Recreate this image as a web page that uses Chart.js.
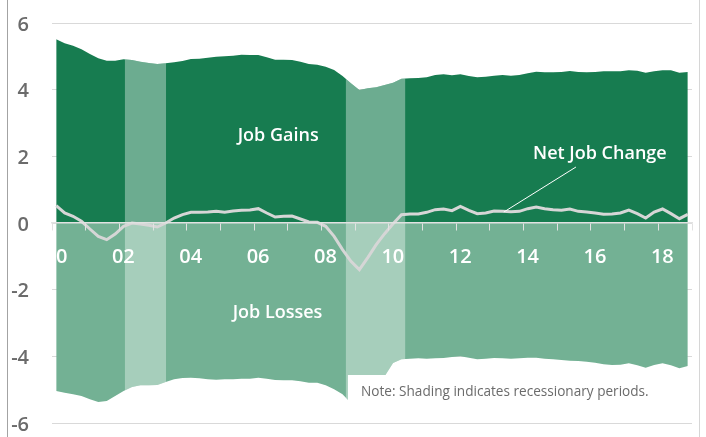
<!DOCTYPE html>
<html>
<head>
<meta charset="utf-8">
<script src="https://cdn.jsdelivr.net/npm/chart.js@4/dist/chart.umd.min.js"></script>
<style>
  html, body { margin: 0; padding: 0; background: #fff; }
  #wrap { width: 706px; height: 437px; }
</style>
</head>
<body>
<div id="wrap"><canvas id="jobsChart" width="706" height="437"></canvas></div>
<script>
// quarterly data, 2000Q1 - 2018Q4, percent of employment
const firstYear = 2000;
const lastYear = 2018;
const yearLabels = ["00", "02", "04", "06", "08", "10", "12", "14", "16", "18"];

const jobGains = [
  5.51, 5.39, 5.32, 5.21,  5.07, 4.94, 4.87, 4.87,  4.91, 4.89, 4.84, 4.80,
  4.77, 4.79, 4.82, 4.86,  4.92, 4.93, 4.96, 4.99,  5.00, 5.02, 5.05, 5.04,
  5.04, 4.97, 4.90, 4.90,  4.89, 4.84, 4.77, 4.75,  4.69, 4.59, 4.41, 4.19,
  3.99, 4.04, 4.07, 4.14,  4.21, 4.33, 4.34, 4.35,  4.37, 4.44, 4.46, 4.43,
  4.46, 4.41, 4.37, 4.39,  4.42, 4.44, 4.42, 4.44,  4.49, 4.54, 4.52, 4.52,
  4.53, 4.56, 4.53, 4.52,  4.53, 4.55, 4.55, 4.55,  4.58, 4.57, 4.51, 4.55,
  4.58, 4.58, 4.51, 4.53
];

const jobLosses = [
  -5.04, -5.09, -5.14, -5.19,  -5.29, -5.37, -5.34, -5.19,  -5.04, -4.92, -4.87, -4.87,
  -4.86, -4.77, -4.69, -4.65,  -4.64, -4.66, -4.69, -4.70,  -4.69, -4.69, -4.67, -4.67,
  -4.64, -4.67, -4.71, -4.72,  -4.72, -4.75, -4.79, -4.79,  -4.87, -4.99, -5.14, -5.40,
  -5.45, -5.15, -4.85, -4.60,  -4.20, -4.09, -4.07, -4.06,  -4.07, -4.06, -4.05, -4.02,
  -4.00, -4.04, -4.09, -4.07,  -4.05, -4.06, -4.07, -4.06,  -4.04, -4.04, -4.07, -4.09,
  -4.11, -4.13, -4.14, -4.16,  -4.19, -4.24, -4.26, -4.25,  -4.21, -4.27, -4.34, -4.26,
  -4.21, -4.27, -4.36, -4.29
];

const netChange = [
  0.52, 0.30, 0.20, 0.05,  -0.18, -0.40, -0.50, -0.33,  -0.10, 0.00, -0.03, -0.07,
  -0.12, 0.00, 0.15, 0.25,  0.32, 0.32, 0.33, 0.35,  0.32, 0.36, 0.38, 0.39,
  0.43, 0.30, 0.18, 0.20,  0.21, 0.12, 0.03, 0.02,  -0.10, -0.40, -0.80, -1.15,
  -1.40, -1.04, -0.65, -0.32,  -0.02, 0.25, 0.27, 0.27,  0.32, 0.40, 0.42, 0.37,
  0.50, 0.38, 0.28, 0.30,  0.36, 0.35, 0.34, 0.35,  0.43, 0.48, 0.43, 0.40,
  0.38, 0.42, 0.35, 0.33,  0.30, 0.26, 0.27, 0.30,  0.39, 0.28, 0.15, 0.33,
  0.42, 0.28, 0.13, 0.26
];

// shaded recession periods (fractional years)
const recessions = [[2002.04, 2003.26], [2008.60, 2010.36]];

const quarters = [];
for (let yr = firstYear; yr <= lastYear; yr++) {
  for (let q = 0; q < 4; q++) quarters.push(yr + q / 4);
}
const toPoints = (vals) => vals.map((v, i) => ({ x: quarters[i], y: v }));

const FONT = "'Open Sans', 'Noto Sans', sans-serif";

const decorations = {
  id: "decorations",
  beforeDraw(chart) {
    const { ctx, width, height } = chart;
    ctx.save();
    ctx.fillStyle = "#fff";
    ctx.fillRect(0, 0, width, height);
    ctx.fillStyle = "#a3a3a3";
    ctx.fillRect(7, 0, 1, height);
    ctx.fillStyle = "#d6d6d6";
    ctx.fillRect(699, 0, 1, height);
    ctx.restore();
  },
  afterDatasetDraw(chart, args) {
    // lighten the areas inside recession periods, right after the losses fill
    if (args.index !== 1) return;
    const gains = chart.getDatasetMeta(0).data;
    const losses = chart.getDatasetMeta(1).data;
    const xs = chart.scales.x;
    const area = chart.chartArea;
    const ctx = chart.ctx;
    ctx.save();
    ctx.beginPath();
    gains.forEach((p, i) => (i ? ctx.lineTo(p.x, p.y) : ctx.moveTo(p.x, p.y)));
    for (let i = losses.length - 1; i >= 0; i--) ctx.lineTo(losses[i].x, losses[i].y);
    ctx.closePath();
    ctx.clip();
    ctx.fillStyle = "rgba(255,255,255,0.37)";
    recessions.forEach(([a, b]) => {
      const x0 = xs.getPixelForValue(a);
      const x1 = xs.getPixelForValue(b);
      ctx.fillRect(x0, area.top, x1 - x0, area.bottom - area.top);
    });
    ctx.restore();
  },
  afterDraw(chart) {
    const ctx = chart.ctx;
    const xs = chart.scales.x;
    const ys = chart.scales.y;
    const area = chart.chartArea;
    const px = (v) => xs.getPixelForValue(v);
    const py = (v) => ys.getPixelForValue(v);
    ctx.save();

    // note box
    ctx.fillStyle = "#fff";
    ctx.fillRect(px(2008.66), py(-4.56), area.right - px(2008.66), py(-5.6) - py(-4.56));
    ctx.fillStyle = "#6b6b6b";
    ctx.font = "400 13.6px " + FONT;
    ctx.textAlign = "left";
    ctx.textBaseline = "middle";
    ctx.fillText("Note: Shading indicates recessionary periods.", px(2009.05), py(-5.07));

    // series labels
    ctx.fillStyle = "#fff";
    ctx.font = "600 18px " + FONT;
    ctx.textAlign = "center";
    ctx.fillText("Job Gains", px(2006.59), py(2.62));
    ctx.fillText("Job Losses", px(2006.57), py(-2.70));
    ctx.fillText("Net Job Change", px(2016.14), py(2.08));

    // callout line
    ctx.strokeStyle = "#fff";
    ctx.lineWidth = 1;
    ctx.beginPath();
    ctx.moveTo(px(2015.43), py(1.68));
    ctx.lineTo(px(2013.29), py(0.33));
    ctx.stroke();
    ctx.restore();
  }
};

new Chart(document.getElementById("jobsChart"), {
  type: "line",
  data: {
    datasets: [
      {
        label: "Job Gains",
        data: toPoints(jobGains),
        fill: "origin",
        backgroundColor: "#177c50",
        borderColor: "rgba(0,0,0,0)",
        borderWidth: 0,
        pointRadius: 0,
        tension: 0,
        order: 2
      },
      {
        label: "Job Losses",
        data: toPoints(jobLosses),
        fill: "origin",
        backgroundColor: "#73b194",
        borderColor: "rgba(0,0,0,0)",
        borderWidth: 0,
        pointRadius: 0,
        tension: 0,
        order: 1
      },
      {
        label: "Net Job Change",
        data: toPoints(netChange),
        fill: false,
        borderColor: "#d6d6d6",
        borderWidth: 3,
        pointRadius: 0,
        tension: 0,
        order: 0
      }
    ]
  },
  options: {
    responsive: false,
    animation: false,
    events: [],
    layout: { padding: { left: 0, right: 14, top: 23, bottom: 14 } },
    plugins: {
      legend: { display: false },
      tooltip: { enabled: false }
    },
    scales: {
      x: {
        type: "linear",
        position: { y: 0 },
        min: firstYear - 0.125,
        max: lastYear + 0.875,
        afterBuildTicks(axis) {
          const ticks = [];
          for (let k = 0; k <= lastYear - firstYear + 1; k++) ticks.push({ value: firstYear - 0.125 + k });
          axis.ticks = ticks;
        },
        ticks: {
          z: 2,
          autoSkip: false,
          maxRotation: 0,
          padding: 13,
          labelOffset: 4,
          color: "#fff",
          font: { family: FONT, size: 20, weight: "600", lineHeight: 1.4 },
          callback: (value, index) => (index % 2 === 0 ? yearLabels[index / 2] : "")
        },
        grid: { z: 1, drawOnChartArea: false, drawTicks: true, tickLength: 7, color: "#e2e2e2", lineWidth: 1 },
        border: { z: 1, display: true, color: "#e2e2e2", width: 1.5 }
      },
      y: {
        min: -6,
        max: 6,
        afterFit(scale) { scale.width = 52; },
        ticks: {
          stepSize: 2,
          padding: 0,
          labelOffset: 2,
          color: "#6b6b6b",
          font: { family: FONT, size: 20, weight: "600" }
        },
        grid: { color: "#d9d9d9", drawTicks: true, tickLength: 23, tickColor: "rgba(0,0,0,0)", lineWidth: 1 },
        border: { display: false }
      }
    }
  },
  plugins: [decorations]
});
</script>
</body>
</html>
